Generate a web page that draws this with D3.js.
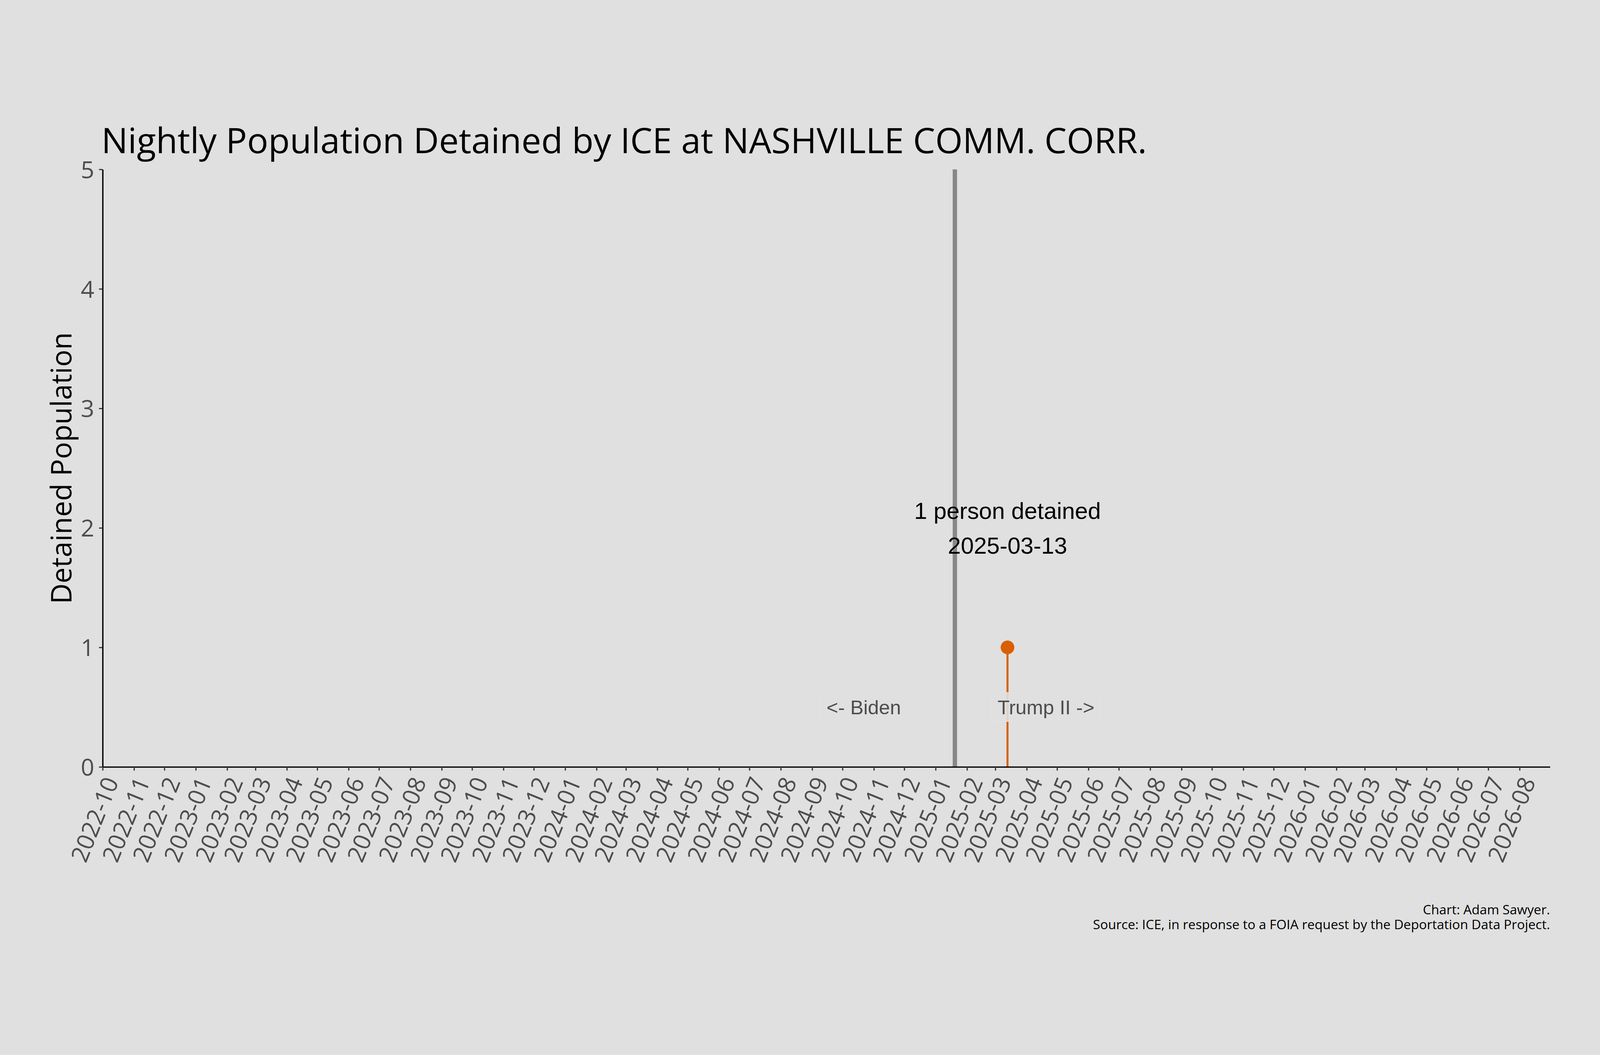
<!DOCTYPE html>
<html>
<head>
<meta charset="utf-8">
<script src="https://cdn.jsdelivr.net/npm/d3@7"></script>
<style>
  html, body { margin: 0; padding: 0; background: #e0e0e0; overflow: hidden; }
  svg { display: block; width: 100vw; height: 100vh; }
</style>
</head>
<body>
<div id="chart"></div>
<script>
// data
var detainDates = ["2025-03-13"];
var detainCounts = [1];
var yTicks = [0, 1, 2, 3, 4, 5];
var xStart = "2022-10-01", xEnd = "2026-08-31";
var inauguration = "2025-01-20";
var eraLabels = ["<- Biden", "Trump II ->"];
var eraOffsetDays = [-90, 90];
var noteLines = ["1 person detained", "2025-03-13"];
var noteY = 2;
var captionLines = ["Chart: Adam Sawyer.",
  "Source: ICE, in response to a FOIA request by the Deportation Data Project."];

var W = 4800, H = 2700;
var margin = {top: 276, right: 150, bottom: 632, left: 308};
var uiFont = "'Open Sans', 'Noto Sans', sans-serif";
var arial = "'Liberation Sans', Arial, sans-serif";
var accent = "#d95f02";

var parse = d3.utcParse("%Y-%m-%d");

// viewBox keeps the whole 4800x2700 drawing in view whatever the window is
var svg = d3.select("#chart").append("svg")
  .attr("viewBox", "0 0 " + W + " " + H)
  .attr("preserveAspectRatio", "xMidYMid meet");

svg.append("rect").attr("width", W).attr("height", H).attr("fill", "#e0e0e0");

var x = d3.scaleUtc()
  .domain([parse(xStart), parse(xEnd)])
  .range([margin.left, W - margin.right]);

var y = d3.scaleLinear()
  .domain([0, 5])
  .range([H - margin.bottom, margin.top]);

// shrink/grow a text so it spans the given width
function fitWidth(sel, target) {
  var fs = parseFloat(sel.attr("font-size"));
  var len = sel.node().getComputedTextLength();
  sel.attr("font-size", fs * target / len);
}

// inauguration line
svg.append("line")
  .attr("x1", x(parse(inauguration))).attr("x2", x(parse(inauguration)))
  .attr("y1", y(5)).attr("y2", y(0))
  .attr("stroke", "#888888")
  .attr("stroke-width", 13);

var pts = detainDates.map(function(d, i) { return {date: parse(d), n: detainCounts[i]}; });

svg.selectAll(".stem")
  .data(pts)
  .enter()
  .append("line")
    .attr("class", "stem")
    .attr("x1", function(d) { return x(d.date); })
    .attr("x2", function(d) { return x(d.date); })
    .attr("y1", y(0))
    .attr("y2", function(d) { return y(d.n); })
    .attr("stroke", accent)
    .attr("stroke-width", 6);

svg.selectAll(".dot")
  .data(pts)
  .enter()
  .append("circle")
    .attr("class", "dot")
    .attr("cx", function(d) { return x(d.date); })
    .attr("cy", function(d) { return y(d.n); })
    .attr("r", 20.5)
    .attr("fill", accent);

// era labels with faint boxes
var eras = svg.selectAll(".era")
  .data(eraLabels)
  .enter()
  .append("g")
    .attr("class", "era")
    .attr("transform", function(d, i) {
      return "translate(" + x(d3.utcDay.offset(parse(inauguration), eraOffsetDays[i])) + "," + y(0.5) + ")";
    });

eras.append("text")
  .attr("text-anchor", "middle")
  .attr("dy", "0.36em")
  .attr("font-family", arial)
  .attr("font-size", 59.5)
  .attr("fill", "#4d4d4d")
  .text(function(d) { return d; });

eras.insert("rect", "text")
  .each(function() {
    var bb = this.parentNode.querySelector("text").getBBox();
    d3.select(this)
      .attr("x", bb.x - 18).attr("width", bb.width + 36)
      .attr("y", -44).attr("height", 87)
      .attr("rx", 4);
  })
  .attr("fill", "#e0e0e0")
  .attr("fill-opacity", 0.9)
  .attr("stroke", "#e4e4e4")
  .attr("stroke-width", 2);

// annotation
var note = svg.append("text")
  .attr("text-anchor", "middle")
  .attr("font-family", arial)
  .attr("font-size", 70)
  .attr("fill", "#000");

note.selectAll("tspan")
  .data(noteLines)
  .enter()
  .append("tspan")
    .attr("x", x(pts[0].date))
    .attr("y", function(d, i) { return y(noteY) + (i - 0.5) * 104 + 25; })
    .text(function(d) { return d; });

// axes
var yAxis = svg.append("g")
  .attr("transform", "translate(" + margin.left + ",0)")
  .call(d3.axisLeft(y).tickValues(yTicks).tickFormat(d3.format("d"))
    .tickSize(11).tickSizeOuter(0).tickPadding(14));

var xAxis = svg.append("g")
  .attr("transform", "translate(0," + y(0) + ")")
  .call(d3.axisBottom(x)
    .ticks(d3.utcMonth.every(1))
    .tickFormat(d3.utcFormat("%Y-%m"))
    .tickSize(11).tickSizeOuter(0));

[yAxis, xAxis].forEach(function(ax) {
  ax.select(".domain").attr("stroke", "#000").attr("stroke-width", 4);
  ax.selectAll(".tick line").attr("stroke", "#333").attr("stroke-width", 3.5);
  ax.selectAll(".tick text")
    .attr("fill", "#4d4d4d")
    .attr("font-family", uiFont)
    .attr("font-size", 71);
});

yAxis.selectAll(".tick text").attr("dy", "0.36em");

xAxis.selectAll(".tick text")
  .attr("text-anchor", "end")
  .attr("y", 0)
  .attr("dy", "0.74em")
  .attr("transform", "translate(0,24) rotate(-68)");

// y axis title
var yTitle = svg.append("text")
  .attr("transform", "translate(215," + (y(0) + y(5)) / 2 + ") rotate(-90)")
  .attr("text-anchor", "middle")
  .attr("font-family", uiFont)
  .attr("font-size", 90)
  .attr("fill", "#000")
  .text("Detained Population");
fitWidth(yTitle, 815);

// title
var title = svg.append("text")
  .attr("x", 304)
  .attr("y", 227)
  .attr("font-family", uiFont)
  .attr("font-size", 108)
  .attr("fill", "#000")
  .text("Nightly Population Detained by ICE at NASHVILLE COMM. CORR.");
fitWidth(title, 3137);

// caption
var cap = svg.append("g")
  .attr("font-family", uiFont)
  .attr("font-size", 40)
  .attr("fill", "#000")
  .attr("text-anchor", "end");

cap.selectAll("text")
  .data(captionLines)
  .enter()
  .append("text")
    .attr("x", W - margin.right)
    .attr("y", function(d, i) { return 2510 + i * 45; })
    .text(function(d) { return d; });

var capSize = 40 * 1371 / cap.selectAll("text").nodes()[1].getComputedTextLength();
cap.selectAll("text").attr("font-size", capSize);
</script>
</body>
</html>
